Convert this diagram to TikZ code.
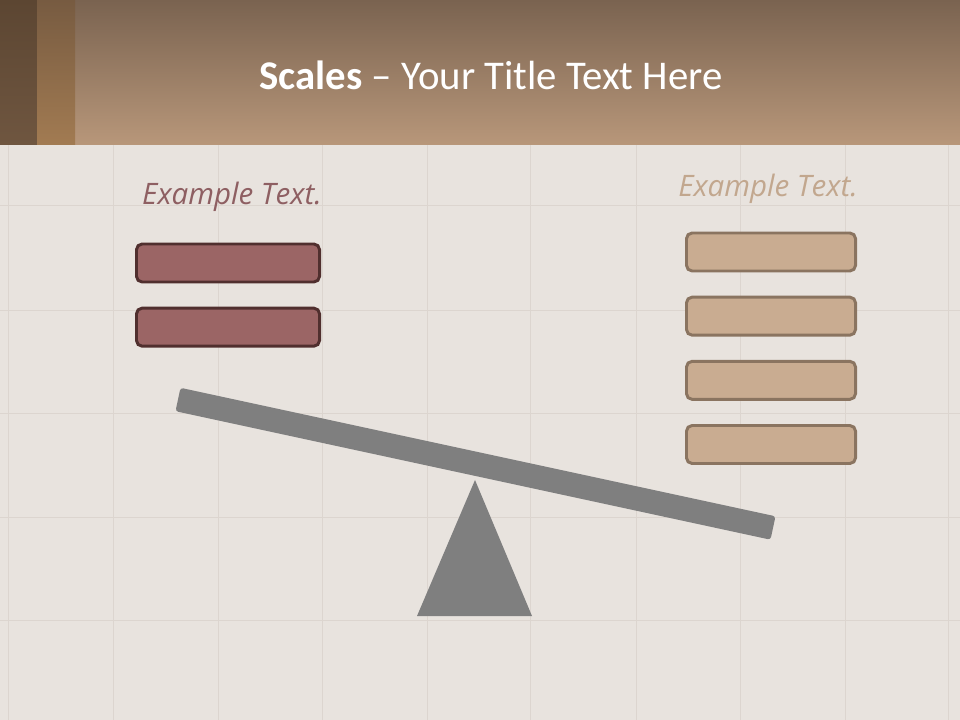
\documentclass[tikz,border=0pt]{standalone}
\usepackage{fontspec}
\setmainfont{Carlito}
\newfontfamily\labelfont{Open Sans}
\usepackage{xcolor}
\usetikzlibrary{positioning}

\definecolor{headtop}{HTML}{7A6350}
\definecolor{headbot}{HTML}{B8977A}
\definecolor{stripAtop}{HTML}{5C4632}
\definecolor{stripAbot}{HTML}{6F5640}
\definecolor{stripBtop}{HTML}{775B41}
\definecolor{stripBbot}{HTML}{A27B52}
\definecolor{paper}{HTML}{E8E3DE}
\definecolor{tileline}{HTML}{DCD5CF}
\definecolor{rosefill}{HTML}{9B6565}
\definecolor{rosedraw}{HTML}{502F2E}
\definecolor{rosetext}{HTML}{8E5F62}
\definecolor{tanfill}{HTML}{C9AC91}
\definecolor{tandraw}{HTML}{8A7460}
\definecolor{tantext}{HTML}{C2A78E}
\definecolor{beamgray}{HTML}{7F7F7F}

\begin{document}
\begin{tikzpicture}[
    x=0.025cm, y=-0.025cm,
    node distance=0.58cm and 0.58cm,
    weight/.style={rectangle, draw, line width=2.1pt, rounded corners=4pt, minimum height=0.95cm},
    leftw/.style={weight, fill=rosefill, draw=rosedraw, minimum width=4.575cm},
    rightw/.style={weight, fill=tanfill, draw=tandraw, minimum width=4.225cm},
    pan/.style={font=\labelfont\itshape\fontsize{21}{24}\selectfont}
]
\useasboundingbox (0,0) rectangle (960,720);
% background and tiles
\fill[paper] (0,0) rectangle (960,720);
\foreach \x in {8,113,218,322,427,530,636,740,845,948}
  \draw[tileline, line width=0.6pt] (\x,145) -- (\x,720);
\foreach \y in {205,310,413,517,620}
  \draw[tileline, line width=0.6pt] (0,\y) -- (960,\y);
% header band
\shade[top color=headtop, bottom color=headbot] (0,0) rectangle (960,145);
\shade[top color=stripAtop, bottom color=stripAbot] (0,0) rectangle (37,145);
\shade[top color=stripBtop, bottom color=stripBbot] (37,0) rectangle (75,145);
\node[text=white, font=\fontsize{29}{33}\selectfont] (title) at (491,75)
  {\textbf{Scales} -- Your Title Text Here};

% left pan
\node[pan, text=rosetext] (ltext) at (232,197) {Example Text.};
\node[leftw] (l1) at (228,263) {};
\node[leftw, below=of l1] (l2) {};

% right pan
\node[pan, text=tantext] (rtext) at (768,189) {Example Text.};
\node[rightw] (r1) at (771,252) {};
\node[rightw, below=of r1] (r2) {};
\node[rightw, below=of r2] (r3) {};
\node[rightw, below=of r3] (r4) {};

% beam and pivot
\fill[beamgray, rounded corners=2pt] (180.5,387.8) -- (775.5,516.3) -- (770.5,539.7) -- (175.5,411.2) -- cycle;
\fill[beamgray] (475,480) -- (532,616) -- (417,616) -- cycle;
\end{tikzpicture}
\end{document}
